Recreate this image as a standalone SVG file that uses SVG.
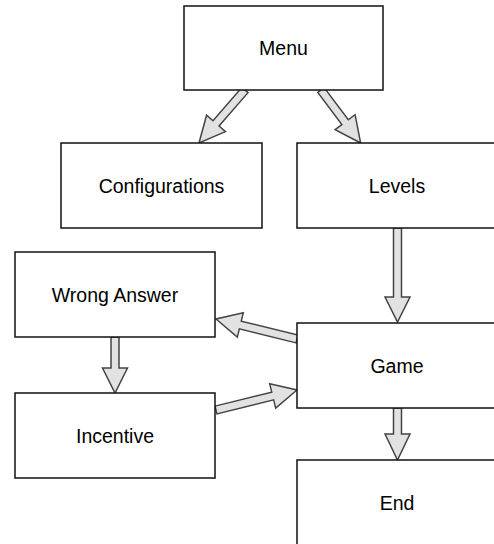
<svg xmlns="http://www.w3.org/2000/svg" width="494" height="544" viewBox="0 0 494 544">
<style>
.box{fill:#fff;stroke:#111;stroke-width:1.5}
.lbl{font-family:"Liberation Sans",Arial,sans-serif;font-size:19.5px;fill:#000;text-anchor:middle;dominant-baseline:central}
.arr{fill:#e2e2e2;stroke:#444;stroke-width:1.5;stroke-linejoin:miter}
</style>
<rect width="494" height="544" fill="#fff"/>
<g id="connectors">
<polygon class="arr" transform="translate(245,90) rotate(130.96)" points="0,-4 44.2,-4 44.2,-12.5 70.2,0 44.2,12.5 44.2,4 0,4"/>
<polygon class="arr" transform="translate(321,90) rotate(53.2)" points="0,-4 40.2,-4 40.2,-12.5 66.2,0 40.2,12.5 40.2,4 0,4"/>
<polygon class="arr" transform="translate(397.5,228) rotate(90)" points="0,-4 69,-4 69,-12.5 94,0 69,12.5 69,4 0,4"/>
<polygon class="arr" transform="translate(397.5,408) rotate(90)" points="0,-4 26,-4 26,-12.5 52,0 26,12.5 26,4 0,4"/>
<polygon class="arr" transform="translate(115,337) rotate(90)" points="0,-4 31,-4 31,-12.5 56,0 31,12.5 31,4 0,4"/>
<polygon class="arr" transform="translate(297,339) rotate(193.87)" points="0,-4 58.4,-4 58.4,-12.5 83.4,0 58.4,12.5 58.4,4 0,4"/>
<polygon class="arr" transform="translate(216,410) rotate(-13.87)" points="0,-4 58.4,-4 58.4,-12.5 83.4,0 58.4,12.5 58.4,4 0,4"/>
</g>
<g id="menu"><rect class="box" x="184" y="6" width="199" height="84"/><text class="lbl" x="283.5" y="48">Menu</text></g>
<g id="configurations"><rect class="box" x="61" y="143" width="201" height="85"/><text class="lbl" x="161.5" y="185.5">Configurations</text></g>
<g id="levels"><rect class="box" x="297" y="143" width="200" height="85"/><text class="lbl" x="397" y="185.5">Levels</text></g>
<g id="wrong-answer"><rect class="box" x="15" y="252" width="200" height="85"/><text class="lbl" x="115" y="294.5">Wrong Answer</text></g>
<g id="incentive"><rect class="box" x="15" y="393" width="200" height="85"/><text class="lbl" x="115" y="436">Incentive</text></g>
<g id="game"><rect class="box" x="297" y="323" width="200" height="85"/><text class="lbl" x="397" y="365.5">Game</text></g>
<g id="end"><rect class="box" x="297" y="460" width="200" height="90"/><text class="lbl" x="397" y="503">End</text></g>
</svg>
